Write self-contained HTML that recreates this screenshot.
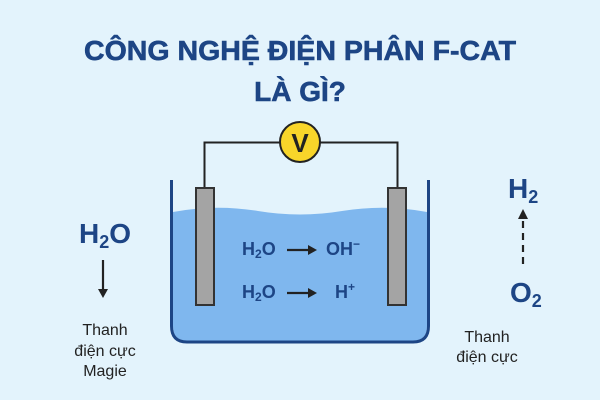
<!DOCTYPE html>
<html><head><meta charset="utf-8"><style>
body{margin:0;width:600px;height:400px;background:#e3f3fc;overflow:hidden}
svg{display:block}
text{font-family:"Liberation Sans",sans-serif}
</style></head><body>
<svg width="600" height="400" viewBox="0 0 600 400">
<rect width="600" height="400" fill="#e3f3fc"/>
<g font-weight="bold" fill="#1d4585" text-anchor="middle" font-size="28" stroke="#1d4585" stroke-width="0.6">
<text x="300" y="60" textLength="432" lengthAdjust="spacingAndGlyphs">CÔNG NGHỆ ĐIỆN PHÂN F-CAT</text>
<text x="300" y="101">LÀ GÌ?</text>
</g>
<path d="M173 212 Q215 204 258 211 Q300 218 342 211 Q385 204 427 212 L427 326 Q427 341 412 341 L188 341 Q173 341 173 326 Z" fill="#7fb7ee"/>
<path d="M171.5 180 L171.5 326 Q171.5 342 187 342 L413 342 Q428.5 342 428.5 326 L428.5 180" fill="none" stroke="#1d4585" stroke-width="3"/>
<path d="M204.5 188 V142.5 H397.5 V188" fill="none" stroke="#222" stroke-width="2"/>
<circle cx="300" cy="142" r="20" fill="#f8d52a" stroke="#222" stroke-width="2"/>
<text x="300" y="152" text-anchor="middle" font-size="26" font-weight="bold" fill="#222">V</text>
<rect x="196" y="188" width="18" height="117" fill="#a4a4a4" stroke="#333" stroke-width="2"/>
<rect x="388" y="188" width="18" height="117" fill="#a4a4a4" stroke="#333" stroke-width="2"/>
<g font-weight="bold" fill="#1d4585" font-size="18">
<text x="242" y="255">H<tspan font-size="12" dy="3">2</tspan><tspan dy="-3">O</tspan></text>
<text x="326" y="255">OH<tspan font-size="12" dy="-7">−</tspan></text>
<text x="242" y="298">H<tspan font-size="12" dy="3">2</tspan><tspan dy="-3">O</tspan></text>
<text x="335" y="298">H<tspan font-size="12" dy="-7">+</tspan></text>
</g>
<g stroke="#222" stroke-width="2.2" fill="none">
<path d="M287 250 H310"/>
<path d="M287 293 H310"/>
<path d="M103 260 V290"/>
<path d="M523 264 V218" stroke-dasharray="7 5"/>
</g>
<g fill="#222">
<path d="M308 245 L317 250 L308 255 Z"/>
<path d="M308 288 L317 293 L308 298 Z"/>
<path d="M98 289 L103 298 L108 289 Z"/>
<path d="M518 219 L523 209 L528 219 Z"/>
</g>
<g font-weight="bold" fill="#1d4585" font-size="28">
<text x="79" y="243">H<tspan font-size="18" dy="5">2</tspan><tspan dy="-5">O</tspan></text>
<text x="508" y="198">H<tspan font-size="18" dy="5">2</tspan></text>
<text x="510" y="302">O<tspan font-size="18" dy="5">2</tspan></text>
</g>
<g fill="#222" font-size="16" text-anchor="middle">
<text x="105" y="335">Thanh</text>
<text x="105" y="356">điện cực</text>
<text x="105" y="376">Magie</text>
<text x="487" y="342">Thanh</text>
<text x="487" y="362">điện cực</text>
</g>
</svg>
</body></html>
